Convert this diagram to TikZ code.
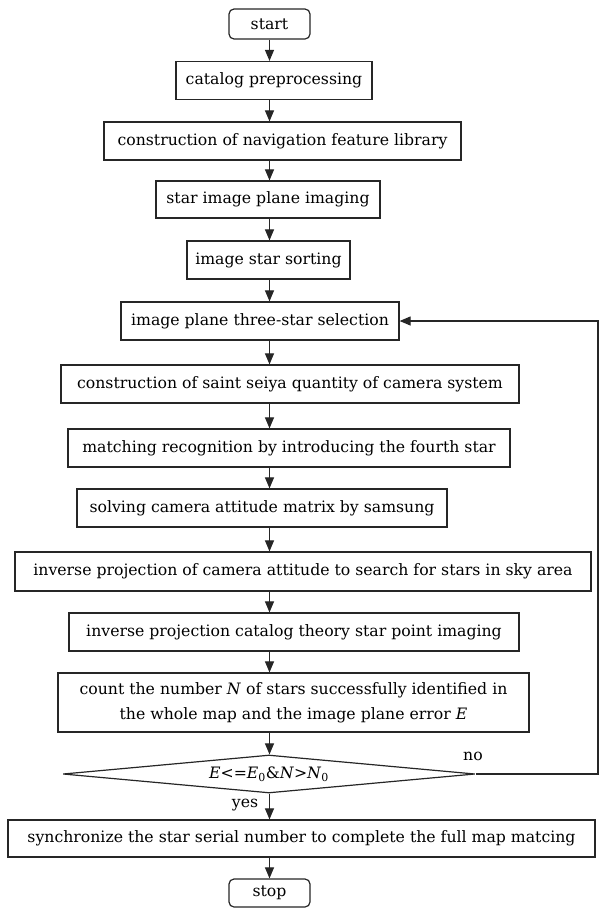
\documentclass[tikz,border=0pt]{standalone}
\usepackage{fontspec}
\setmainfont{DejaVu Serif}
\usetikzlibrary{shapes,arrows.meta,positioning,calc}

\newcommand{\boxfont}{\fontsize{15.7}{25}\selectfont}

\tikzset{
  stepbox/.style={rectangle,draw=black!85,line width=1.2pt,fill=white,inner sep=0pt,minimum height=38pt,font=\boxfont,align=center},
  termbox/.style={stepbox,rounded corners=5pt,minimum width=81pt,minimum height=30pt},
  flow/.style={-{Triangle[length=11pt,width=9pt]},line width=1.1pt,draw=black!85},
}

\begin{document}
\begin{tikzpicture}[x=1pt,y=-1pt]
    \useasboundingbox (0,0) rectangle (600,908);

    % Start
    \node[termbox] (start) at (269.5, 24) {start};

    % Preparation
    \node[stepbox,minimum width=196pt] (catalog) at (274, 80.5) {catalog preprocessing};
    \node[stepbox,minimum width=357pt] (navlib) at (282.5, 141) {construction of navigation feature library};
    \node[stepbox,minimum width=224pt,minimum height=37pt] (imaging) at (268, 199.5) {star image plane imaging};
    \node[stepbox,minimum width=163pt] (sorting) at (268.5, 260) {image star sorting};

    % Three-star loop
    \node[stepbox,minimum width=278pt] (select) at (260, 321) {image plane three-star selection};
    \node[stepbox,minimum width=458pt] (saint) at (290, 384) {construction of saint seiya quantity of camera system};
    \node[stepbox,minimum width=442pt] (fourth) at (289, 448) {matching recognition by introducing the fourth star};
    \node[stepbox,minimum width=370pt] (solve) at (262, 508) {solving camera attitude matrix by samsung};
    \node[stepbox,minimum width=576pt,minimum height=39pt] (invproj) at (303, 571.5) {inverse projection of camera attitude to search for stars in sky area};
    \node[stepbox,minimum width=450pt] (invcat) at (294, 632) {inverse projection catalog theory star point imaging};
    \node[stepbox,minimum width=471pt,minimum height=59pt] (count) at (293.5, 702.5) {count the number \textit{N} of stars successfully identified in\\ the whole map and the image plane error \textit{E}};

    % Decision
    \node[diamond,draw=black!85,line width=1.2pt,inner sep=0pt,aspect=10.8,minimum width=412pt,minimum height=38pt,font=\boxfont] (check) at (269, 774) {\textit{E}<=\textit{E}\textsubscript{0}\&\textit{N}>\textit{N}\textsubscript{0}};
    \node[font=\boxfont] (nolabel) at (473, 756) {no};
    \node[font=\boxfont] (yeslabel) at (245, 805) {yes};

    % End
    \node[stepbox,minimum width=587pt,minimum height=37pt] (sync) at (301.5, 838.5) {synchronize the star serial number to complete the full map matcing};
    \node[termbox,minimum height=28pt] (stop) at (269.5, 893) {stop};

    % Arrows
    \draw[flow] (start.south) -- (catalog.north -| start);
    \draw[flow] (catalog.south -| start) -- (navlib.north -| start);
    \draw[flow] (navlib.south -| start) -- (imaging.north -| start);
    \draw[flow] (imaging.south -| start) -- (sorting.north -| start);
    \draw[flow] (sorting.south -| start) -- (select.north -| start);
    \draw[flow] (select.south -| start) -- (saint.north -| start);
    \draw[flow] (saint.south -| start) -- (fourth.north -| start);
    \draw[flow] (fourth.south -| start) -- (solve.north -| start);
    \draw[flow] (solve.south -| start) -- (invproj.north -| start);
    \draw[flow] (invproj.south -| start) -- (invcat.north -| start);
    \draw[flow] (invcat.south -| start) -- (count.north -| start);
    \draw[flow] (count.south -| start) -- (check.north -| start);
    \draw[flow] (check.south -| start) -- (sync.north -| start);
    \draw[flow] (sync.south -| start) -- (stop.north);

    % Back to three-star selection
    \coordinate (loopx) at (598, 0);
    \draw[flow] (check.east) -- (check.east -| loopx) |- (select.east);
\end{tikzpicture}
\end{document}
